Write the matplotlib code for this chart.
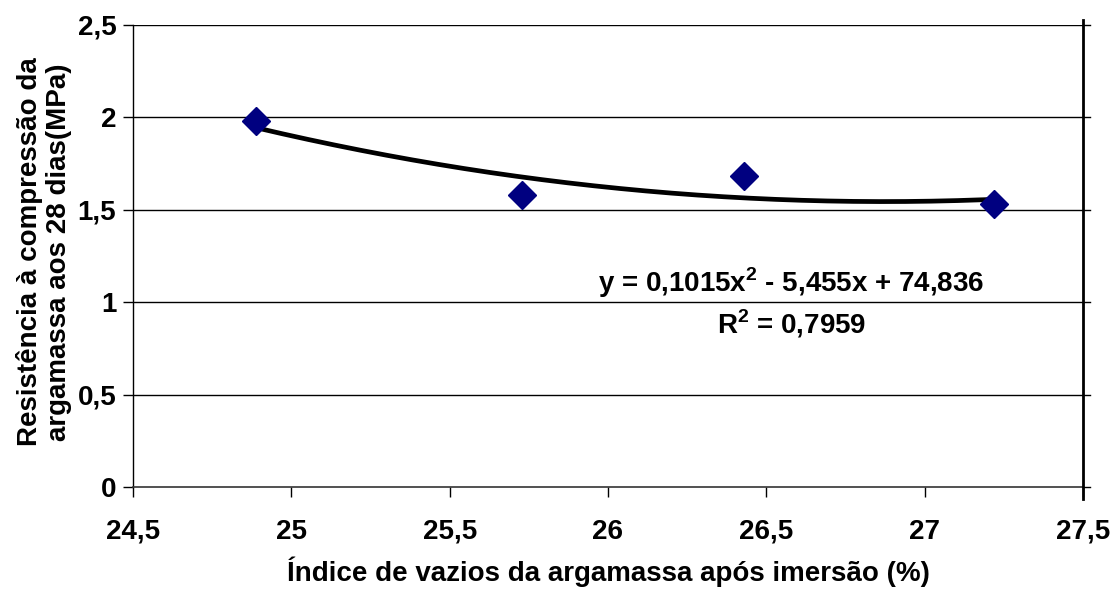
import numpy as np
import matplotlib
matplotlib.use("Agg")
import matplotlib.pyplot as plt
from matplotlib.lines import Line2D

plt.rcParams['font.family'] = ['Liberation Sans', 'DejaVu Sans']
plt.rcParams['mathtext.fontset'] = 'custom'
plt.rcParams['mathtext.bf'] = 'Liberation Sans:bold'
plt.rcParams['mathtext.rm'] = 'Liberation Sans'

# Measured void index (%) and 28-day compressive strength (MPa)
indice_vazios = [24.89, 25.73, 26.43, 27.22]
resistencia = [1.98, 1.58, 1.68, 1.53]

# Second-order trend line coefficients and goodness of fit
coef = [0.1015, -5.455, 74.836]
r2 = 0.7959

x_ticks = [24.5, 25, 25.5, 26, 26.5, 27, 27.5]
y_ticks = [0, 0.5, 1, 1.5, 2, 2.5]

def fmt(v):
    return ('%g' % v).replace('.', ',')

FS = 20

fig = plt.figure(figsize=(11.19, 5.90), dpi=100)
ax = fig.add_axes([133/1119, 1 - 487/590, (1083 - 133)/1119, (487 - 24.5)/590])

ax.set_xlim(24.5, 27.5)
ax.set_ylim(0, 2.5)

# horizontal grid
for yv in y_ticks[1:]:
    ax.axhline(yv, color='black', lw=1.0, zorder=1)

# trend line
xs = np.linspace(min(indice_vazios), max(indice_vazios), 200)
ax.plot(xs, np.polyval(coef, xs), color='black', lw=3.4, zorder=3,
        solid_capstyle='round')

# data points
ax.plot(indice_vazios, resistencia, linestyle='none', marker='D',
        markersize=14.5, color='#000080', markeredgecolor='#000080', zorder=4)

ax.set_xticks(x_ticks)
ax.set_xticklabels([fmt(v) for v in x_ticks])
ax.set_yticks(y_ticks)
ax.set_yticklabels([fmt(v) for v in y_ticks])

ax.spines['top'].set_visible(False)
ax.spines['right'].set_visible(False)
ax.spines['left'].set_color('black')
ax.spines['left'].set_linewidth(1.0)
ax.spines['bottom'].set_color('#333333')
ax.spines['bottom'].set_linewidth(1.2)

ax.tick_params(axis='both', direction='out', length=7, width=1.0,
               labelsize=FS, colors='black')
ax.tick_params(axis='x', pad=16)
ax.tick_params(axis='y', pad=5)
for lab in ax.get_xticklabels() + ax.get_yticklabels():
    lab.set_fontweight('bold')

# right-hand axis line with outward ticks
ax.add_line(Line2D([1.0, 1.0], [-0.025, 1.01], transform=ax.transAxes,
                   color='black', lw=2.0, clip_on=False, zorder=5))
for yv in y_ticks:
    ax.add_line(Line2D([1.0, 1.0 + 7/950], [yv/2.5, yv/2.5], transform=ax.transAxes,
                       color='black', lw=1.0, clip_on=False, zorder=5))

ax.set_xlabel('Índice de vazios da argamassa após imersão (%)',
              fontsize=FS, fontweight='bold', labelpad=8)
fig.text(44/1119, 1 - 252/590, 'Resistência à compressão da\nargamassa aos 28 dias(MPa)',
         rotation=90, ha='center', va='center', fontsize=FS, fontweight='bold',
         linespacing=1.12)

ax.text(26.578, 0.995,
        'y = 0,1015x$^{\\mathbf{2}}$ - 5,455x + 74,836\nR$^{\\mathbf{2}}$ = 0,7959',
        ha='center', va='center', fontsize=FS, fontweight='bold',
        linespacing=1.3, zorder=6)

fig.savefig('out.png', dpi=100)
